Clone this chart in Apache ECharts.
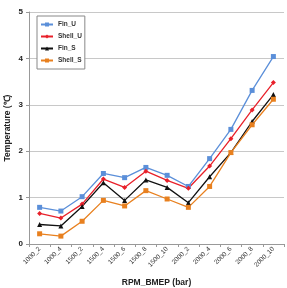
<!DOCTYPE html>
<html>
<head>
    <meta charset="utf-8" />
    <title>Temperature</title>
    <script src="https://cdn.jsdelivr.net/npm/echarts@6/dist/echarts.min.js"></script>
    <style>
        html, body { margin: 0; padding: 0; background: #fff; }
        #chart { width: 287px; height: 288px; }
    </style>
</head>
<body>
    <div id="chart"></div>
<script>
    // categories (RPM_BMEP)
    var categories = ['1000_2', '1000_4', '1500_2', '1500_4', '1500_6', '1500_8',
                      '1500_10', '2000_2', '2000_4', '2000_6', '2000_8', '2000_10'];
    // series values (℃)
    var finU   = [0.79, 0.71, 1.02, 1.52, 1.43, 1.65, 1.48, 1.24, 1.84, 2.47, 3.31, 4.04];
    var shellU = [0.66, 0.56, 0.86, 1.40, 1.22, 1.57, 1.37, 1.20, 1.68, 2.27, 2.89, 3.48];
    var finS   = [0.42, 0.39, 0.81, 1.32, 0.94, 1.38, 1.22, 0.89, 1.45, 1.97, 2.64, 3.22];
    var shellS = [0.22, 0.17, 0.49, 0.94, 0.82, 1.15, 0.97, 0.79, 1.24, 1.97, 2.57, 3.12];
    var yTicks = [0, 1, 2, 3, 4, 5];

    var myChart = echarts.init(document.getElementById('chart'));

    function line(name, data, color, symbol, size) {
        return {
            name: name,
            type: 'line',
            data: data,
            symbol: symbol,
            symbolSize: size,
            showAllSymbol: true,
            lineStyle: { color: color, width: 1.3 },
            itemStyle: { color: color },
            animation: false
        };
    }

    var option = {
        animation: false,
        grid: { left: 29, right: 3, top: 12, bottom: 44, containLabel: false, outerBoundsMode: 'none' },
        legend: {
            orient: 'vertical',
            left: 37,
            top: 16,
            itemWidth: 12,
            itemHeight: 5,
            itemGap: 5,
            padding: [5, 3, 5, 3],
            borderColor: '#888',
            borderWidth: 1,
            backgroundColor: '#fff',
            textStyle: { fontSize: 6.5, fontWeight: 'bold', color: '#333', fontFamily: 'Liberation Sans' },
            data: ['Fin_U', 'Shell_U', 'Fin_S', 'Shell_S']
        },
        xAxis: {
            type: 'category',
            data: categories,
            boundaryGap: true,
            name: 'RPM_BMEP (bar)',
            nameLocation: 'middle',
            nameGap: 34,
            nameMoveOverlap: false,
            nameTextStyle: { fontSize: 8.5, fontWeight: 'bold', color: '#222', fontFamily: 'Liberation Sans' },
            axisLine: { lineStyle: { color: '#999' } },
            axisTick: { show: true, length: 3, lineStyle: { color: '#999' } },
            axisLabel: { rotate: 45, fontSize: 6.5, color: '#333', margin: 4, interval: 0, fontFamily: 'Liberation Sans' }
        },
        yAxis: {
            type: 'value',
            min: yTicks[0],
            max: yTicks[yTicks.length - 1],
            interval: 1,
            name: 'Temperature (℃)',
            nameLocation: 'middle',
            nameGap: 17,
            nameMoveOverlap: false,
            nameTextStyle: { fontSize: 8.5, fontWeight: 'bold', color: '#222', fontFamily: 'Liberation Sans' },
            axisLine: { show: true, lineStyle: { color: '#999' } },
            axisTick: { show: true, length: 3, lineStyle: { color: '#999' } },
            axisLabel: { fontSize: 8, fontWeight: 'bold', color: '#222', margin: 6, fontFamily: 'Liberation Sans' },
            splitLine: { lineStyle: { color: '#c8c8c8' } }
        },
        series: [
            line('Fin_U', finU, '#5b8fd9', 'rect', 5),
            line('Shell_U', shellU, '#e8202a', 'diamond', 5),
            line('Fin_S', finS, '#111111', 'triangle', 5),
            line('Shell_S', shellS, '#e8801f', 'rect', 5)
        ]
    };

    myChart.setOption(option);
</script>
</body>
</html>
